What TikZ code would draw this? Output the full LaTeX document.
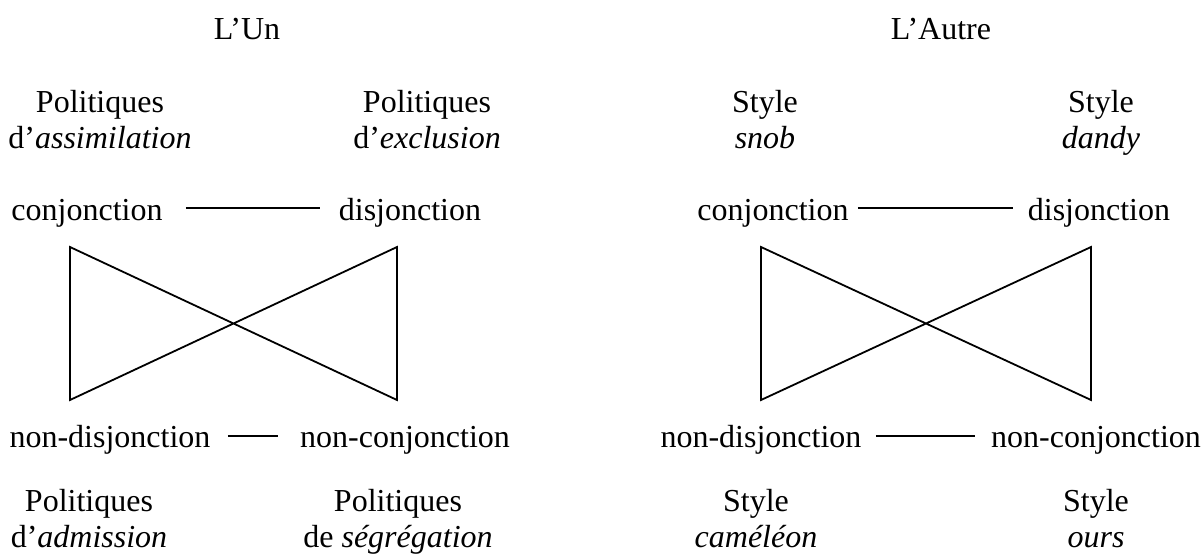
\documentclass[tikz,border=0pt]{standalone}
\usepackage{fontspec}
\setmainfont{Liberation Serif}
\usetikzlibrary{calc}
\tikzset{
	term/.style={font=\fontsize{16}{18}\selectfont, inner sep=0pt, anchor=base},
	pole/.style={font=\fontsize{16}{18}\selectfont, inner sep=0pt, align=center},
	trait/.style={line width=0.9pt},
}

\begin{document}
\begin{tikzpicture}[x=0.5pt, y=-0.5pt]
		%%%%% START %%%%%
		\useasboundingbox (0, 0) rectangle (1204, 556);
		
		% L'Un
		\node[term] (un) at (247, 40) {L’Un};
		\node[pole] (assimilation) at (100, 123) {Politiques\strut\\d’\textit{assimilation}\strut};
		\node[pole] (exclusion) at (427, 123) {Politiques\strut\\d’\textit{exclusion}\strut};
		
		\node[term] (conjA) at (87, 220) {conjonction};
		\node[term] (disjA) at (410, 220) {disjonction};
		\draw[trait] ([shift={(23, -12)}]conjA.base east) -- ([shift={(-18, -12)}]disjA.base west);
		
		\draw[trait] (70, 247) -- (397, 400) -- (397, 247) -- (70, 400) -- cycle;
		
		\node[term] (ndisjA) at (110, 447) {non-disjonction};
		\node[term] (nconjA) at (405, 447) {non-conjonction};
		\draw[trait] ([shift={(17, -11)}]ndisjA.base east) -- ([shift={(-22, -11)}]nconjA.base west);
		
		\node[pole] (admission) at (89, 522) {Politiques\strut\\d’\textit{admission}\strut};
		\node[pole] (segregation) at (398, 522) {Politiques\strut\\de \textit{ségrégation}\strut};
		
		% L'Autre
		\node[term] (autre) at (941, 40) {L’Autre};
		\node[pole] (snob) at (765, 123) {Style\strut\\\textit{snob}\strut};
		\node[pole] (dandy) at (1101, 123) {Style\strut\\\textit{dandy}\strut};
		
		\node[term] (conjB) at (773, 220) {conjonction};
		\node[term] (disjB) at (1099, 220) {disjonction};
		\draw[trait] ([shift={(9, -12)}]conjB.base east) -- ([shift={(-15, -12)}]disjB.base west);
		
		\draw[trait] (761, 247) -- (1091, 400) -- (1091, 247) -- (761, 400) -- cycle;
		
		\node[term] (ndisjB) at (761, 447) {non-disjonction};
		\node[term] (nconjB) at (1096, 447) {non-conjonction};
		\draw[trait] ([shift={(14, -11)}]ndisjB.base east) -- ([shift={(-16, -11)}]nconjB.base west);
		
		\node[pole] (cameleon) at (756, 522) {Style\strut\\\textit{caméléon}\strut};
		\node[pole] (ours) at (1096, 522) {Style\strut\\\textit{ours}\strut};
		%%%%% END %%%%%
\end{tikzpicture}
\end{document}
